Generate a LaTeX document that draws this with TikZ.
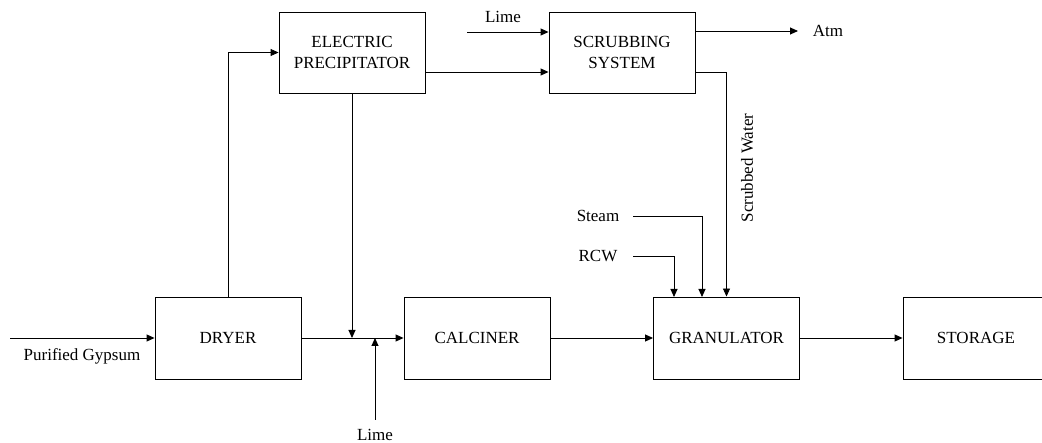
\documentclass[tikz,border=0pt]{standalone}
\usepackage{fontspec}
\setmainfont{Liberation Serif}
\usetikzlibrary{positioning,arrows.meta}
\tikzset{
  unitbox/.style={draw, line width=0.9pt, minimum width=146pt, minimum height=82pt, inner sep=0pt, align=center, font=\fontsize{17}{21}\selectfont},
  flowarr/.style={-{Triangle[length=8pt,width=7pt]}, line width=0.9pt},
  streamlbl/.style={font=\fontsize{17}{21}\selectfont, inner sep=0pt}
}
\begin{document}
\begin{tikzpicture}[x=1pt,y=-1pt]
  \clip (0,0) rectangle (1042,443);
  % process units
  \node[unitbox] (dryer) at (228,338) {DRYER};
  \node[unitbox] (calc) at (477,338) {CALCINER};
  \node[unitbox] (gran) at (726.5,338) {GRANULATOR};
  \node[unitbox] (stor) at (976,338) {STORAGE};
  \node[unitbox, minimum height=81pt] (prec) at (352,52.5) {ELECTRIC\\PRECIPITATOR};
  \node[unitbox, minimum height=81pt] (scrub) at (622,52.5) {SCRUBBING\\SYSTEM};
  % stream labels
  \node[streamlbl] (gyps) at (82,356) {Purified Gypsum};
  \node[streamlbl] (limelo) at (375,435) {Lime};
  \node[streamlbl] (limehi) at (503,17) {Lime};
  \node[streamlbl] (atm) at (828,31) {Atm};
  \node[streamlbl, rotate=90] (swater) at (747,168) {Scrubbed Water};
  \node[streamlbl] (steam) at (598,216) {Steam};
  \node[streamlbl] (rcw) at (598,256) {RCW};
  % free ends
  \coordinate (feed) at (10,338);
  \coordinate (limelost) at (375,420);
  \coordinate (limehist) at (467,32);
  \coordinate (precout) at (425,72);
  \coordinate (gasout) at (695,31);
  \coordinate (atmend) at (798,31);
  \coordinate (waterout) at (695,72);
  \coordinate (steamst) at (633,216);
  \coordinate (steamin) at (702,297);
  \coordinate (rcwst) at (633,256);
  \coordinate (rcwin) at (674,297);
  % main line
  \draw[flowarr] (feed) -- (dryer.west);
  \draw[flowarr] (dryer.east) -- (calc.west);
  \draw[flowarr] (calc.east) -- (gran.west);
  \draw[flowarr] (gran.east) -- (stor.west);
  % gas and dust
  \draw[flowarr] (dryer.north) |- (prec.west);
  \draw[flowarr] (prec.south) -- (prec.south |- dryer.east);
  \draw[flowarr] (limelost) -- (limelost |- dryer.east);
  \draw[flowarr] (limehist) -- (limehist -| scrub.west);
  \draw[flowarr] (precout) -- (precout -| scrub.west);
  \draw[flowarr] (gasout) -- (atmend);
  \draw[flowarr] (waterout) -| (gran.north);
  \draw[flowarr] (steamst) -| (steamin);
  \draw[flowarr] (rcwst) -| (rcwin);
\end{tikzpicture}
\end{document}
